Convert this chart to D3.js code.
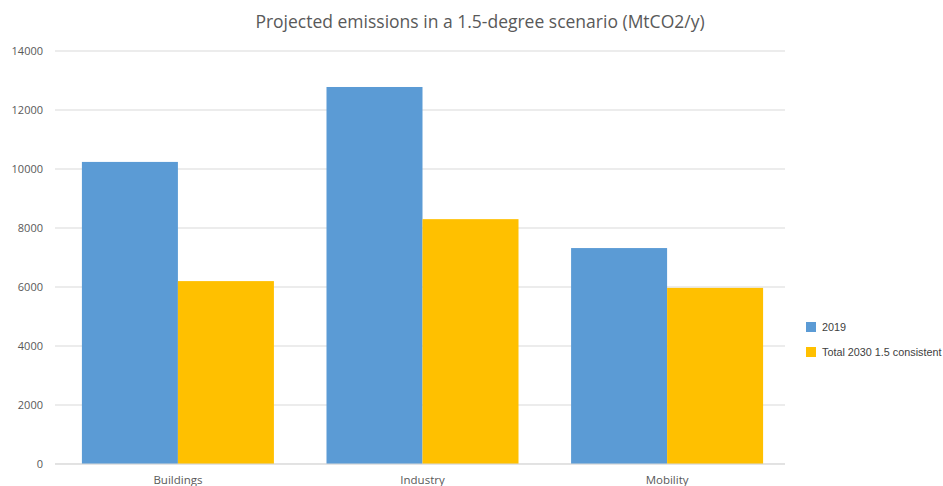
<!DOCTYPE html>
<html>
<head>
<meta charset="utf-8">
<script src="https://cdn.jsdelivr.net/npm/d3@7"></script>
<style>
  body { margin: 0; background: #fff; }
  .tick text { fill: #595959; font-family: "Open Sans", sans-serif; font-size: 11px; }
  .xaxis .tick text { font-size: 11.5px; }
</style>
</head>
<body>
<div id="chart"></div>
<script>
var categories = ["Buildings", "Industry", "Mobility"];
var seriesNames = ["2019", "Total 2030 1.5 consistent"];
var values2019 = [10240, 12780, 7320];
var values2030 = [6200, 8300, 5970];
var yTicks = [0, 2000, 4000, 6000, 8000, 10000, 12000, 14000];
var colors = ["#5b9bd5", "#ffc000"];

var w = 943;
var h = 486;
var plotLeft = 55, plotRight = 785, plotTop = 51, plotBottom = 464;

var svg = d3.select("#chart")
    .append("svg")
    .attr("width", w)
    .attr("height", h);

var xScale = d3.scaleBand()
    .domain(categories)
    .range([plotLeft, 790])
    .paddingInner(0.215)
    .paddingOuter(0.11);

var sub = d3.scaleBand()
    .domain(seriesNames)
    .range([0, xScale.bandwidth()]);

var yScale = d3.scaleLinear()
    .domain([0, 14000])
    .range([plotBottom, plotTop]);

// gridlines
svg.append("g")
    .selectAll("line")
    .data(yTicks)
    .enter().append("line")
    .attr("x1", plotLeft)
    .attr("x2", plotRight)
    .attr("y1", function(d) { return yScale(d); })
    .attr("y2", function(d) { return yScale(d); })
    .attr("stroke", "#d9d9d9")
    .attr("stroke-width", 1);

var yAxis = d3.axisLeft(yScale).tickValues(yTicks).tickFormat(d3.format("d")).tickSize(0).tickPadding(12);
var gy = svg.append("g")
    .attr("transform", "translate(" + plotLeft + ",0)")
    .call(yAxis);
gy.select(".domain").remove();

var rows = categories.map(function(c, i) {
    return [{cat: c, s: seriesNames[0], v: values2019[i]}, {cat: c, s: seriesNames[1], v: values2030[i]}];
});

svg.append("g")
    .selectAll("g")
    .data(rows)
    .enter().append("g")
    .attr("transform", function(d) { return "translate(" + xScale(d[0].cat) + ",0)"; })
    .selectAll("rect")
    .data(function(d) { return d; })
    .enter().append("rect")
    .attr("x", function(d) { return sub(d.s); })
    .attr("width", sub.bandwidth())
    .attr("y", function(d) { return yScale(d.v); })
    .attr("height", function(d) { return plotBottom - yScale(d.v); })
    .attr("fill", function(d, i) { return colors[i]; });

var xAxis = d3.axisBottom(xScale).tickSize(0).tickPadding(12);
var gx = svg.append("g")
    .attr("class", "xaxis")
    .attr("transform", "translate(0," + plotBottom + ")")
    .call(xAxis);
gx.select(".domain").remove();
gx.append("line")
    .attr("x1", plotLeft)
    .attr("x2", plotRight)
    .attr("stroke", "#d9d9d9");

svg.append("text")
    .attr("x", 480)
    .attr("y", 28)
    .attr("text-anchor", "middle")
    .attr("fill", "#595959")
    .style("font-family", "'Open Sans', sans-serif")
    .style("font-size", "17.5px")
    .text("Projected emissions in a 1.5-degree scenario (MtCO2/y)");

var legend = svg.append("g")
    .selectAll("g")
    .data(seriesNames)
    .enter().append("g")
    .attr("transform", function(d, i) { return "translate(806," + (322 + i * 25) + ")"; });

legend.append("rect")
    .attr("width", 10)
    .attr("height", 10)
    .attr("fill", function(d, i) { return colors[i]; });

legend.append("text")
    .attr("x", 16)
    .attr("y", 9)
    .attr("fill", "#404040")
    .style("font-family", "'Liberation Sans', Arial, sans-serif")
    .style("font-size", "10.8px")
    .text(function(d) { return d; });
</script>
</body>
</html>
